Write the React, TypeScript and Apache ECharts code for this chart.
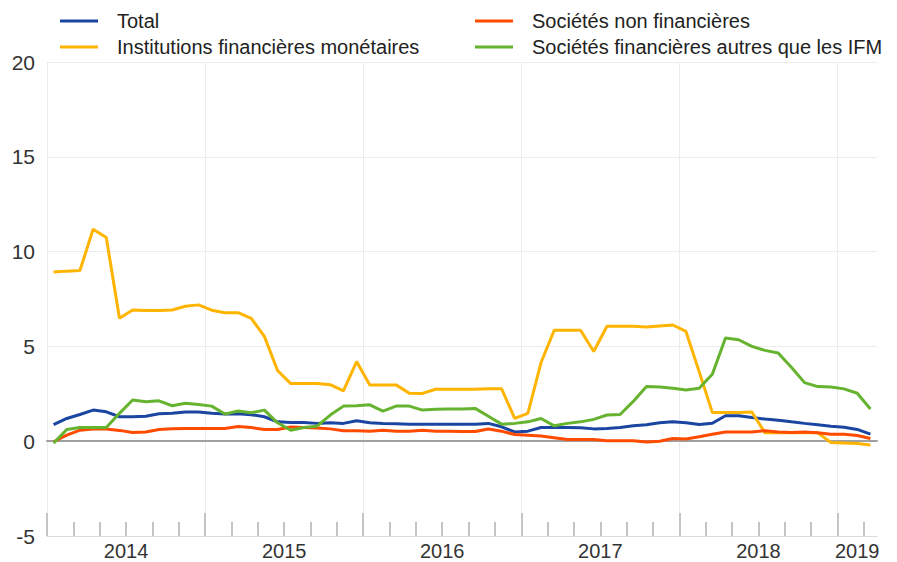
import React, { useEffect, useRef } from "react";
import * as echarts from "echarts";

const years = ["2014", "2015", "2016", "2017", "2018", "2019"];
const monthsInYear = [12, 12, 12, 12, 12, 3];
const months: string[] = [];
years.forEach((y, k) => {
  for (let m = 1; m <= monthsInYear[k]; m++) months.push(`${y}-${String(m).padStart(2, "0")}`);
});

// year label positions on the month scale (middle of each year span)
const yearLabelValues = [6, 18, 30, 42, 54, 61.5];
const yearTickValues = [0, 12, 24, 36, 48, 60];
const twoMonthTickValues = months.map((_, i) => i).filter((i) => i % 2 === 0);

const seriesNames = [
  "Total",
  "Institutions financières monétaires",
  "Sociétés non financières",
  "Sociétés financières autres que les IFM",
];

const total = [
  0.88, 1.2, 1.41, 1.64, 1.55, 1.29, 1.29, 1.32, 1.45, 1.48,
  1.54, 1.54, 1.48, 1.43, 1.45, 1.4, 1.29, 1.02, 0.99, 0.99,
  0.94, 0.97, 0.94, 1.08, 0.97, 0.94, 0.92, 0.9, 0.9, 0.9,
  0.9, 0.9, 0.9, 0.94, 0.76, 0.49, 0.53, 0.72, 0.72, 0.72,
  0.71, 0.65, 0.67, 0.72, 0.81, 0.87, 0.97, 1.02, 0.97, 0.88,
  0.95, 1.34, 1.34, 1.25, 1.17, 1.11, 1.02, 0.94, 0.87, 0.79,
  0.74, 0.62, 0.37,
];

const ifm = [
  8.92, 8.97, 9.0, 11.18, 10.74, 6.48, 6.92, 6.9, 6.9, 6.92,
  7.12, 7.19, 6.91, 6.78, 6.78, 6.48, 5.53, 3.73, 3.04, 3.04,
  3.04, 2.98, 2.65, 4.2, 2.97, 2.97, 2.97, 2.53, 2.52, 2.74,
  2.74, 2.74, 2.74, 2.77, 2.77, 1.2, 1.47, 4.15, 5.85, 5.85,
  5.85, 4.73, 6.06, 6.06, 6.06, 6.02, 6.08, 6.13, 5.79, 3.67,
  1.52, 1.52, 1.52, 1.54, 0.44, 0.44, 0.44, 0.44, 0.44, -0.07,
  -0.1, -0.12, -0.2,
];

const snf = [
  -0.03, 0.32, 0.58, 0.64, 0.64, 0.57, 0.46, 0.49, 0.62, 0.66,
  0.67, 0.67, 0.67, 0.67, 0.78, 0.72, 0.62, 0.62, 0.75, 0.72,
  0.7, 0.65, 0.55, 0.55, 0.53, 0.58, 0.53, 0.53, 0.58, 0.53,
  0.53, 0.51, 0.51, 0.64, 0.53, 0.35, 0.32, 0.27, 0.18, 0.09,
  0.09, 0.09, 0.02, 0.02, 0.02, -0.04, 0.0, 0.14, 0.12, 0.23,
  0.37, 0.49, 0.49, 0.49, 0.55, 0.49, 0.46, 0.48, 0.44, 0.37,
  0.37, 0.3, 0.14,
];

const sfa = [
  -0.1, 0.62, 0.72, 0.72, 0.72, 1.47, 2.17, 2.08, 2.13, 1.87,
  2.0, 1.94, 1.85, 1.43, 1.59, 1.5, 1.64, 0.97, 0.58, 0.72,
  0.79, 1.38, 1.85, 1.87, 1.92, 1.59, 1.85, 1.85, 1.64, 1.68,
  1.7, 1.7, 1.73, 1.32, 0.9, 0.94, 1.02, 1.2, 0.81, 0.94,
  1.02, 1.15, 1.38, 1.41, 2.1, 2.88, 2.86, 2.79, 2.7, 2.79,
  3.53, 5.44, 5.35, 5.0, 4.79, 4.65, 3.9, 3.09, 2.88, 2.86,
  2.76, 2.53, 1.7,
];

const colors = ["#1a45a0", "#ffb400", "#ff4b00", "#65b32e"];
const FONT = 'Arial, "Liberation Sans", sans-serif';

export default function App() {
  const ref = useRef<HTMLDivElement>(null);

  useEffect(() => {
    if (!ref.current) return;
    const chart = echarts.init(ref.current, undefined, { renderer: "svg" });
    const legendCommon = {
      orient: "vertical" as const,
      top: 11,
      padding: 0,
      itemGap: 6,
      itemWidth: 38,
      itemHeight: 3,
      icon: "rect",
      selectedMode: false,
      textStyle: { fontSize: 20, color: "#222", fontFamily: FONT, padding: [0, 0, 0, 14], lineHeight: 20 },
    };
    const valueAxisBase = {
      type: "value" as const,
      min: 0,
      max: months.length,
      position: "bottom" as const,
      gridIndex: 0,
    };
    const seriesData = [total, ifm, snf, sfa];
    chart.setOption({
      animation: false,
      textStyle: { fontFamily: FONT },
      grid: { left: 47, right: 20, top: 62, bottom: 26, outerBoundsMode: "none" },
      legend: [
        { ...legendCommon, left: 60, data: [seriesNames[0], seriesNames[1]] },
        { ...legendCommon, left: 475, data: [seriesNames[2], seriesNames[3]] },
      ],
      xAxis: [
        {
          type: "category",
          data: months,
          boundaryGap: true,
          position: "bottom",
          axisLine: { show: true, onZero: true, lineStyle: { color: "#a0a0a0", width: 2 } },
          axisTick: { show: false },
          axisLabel: { show: false },
          splitLine: { show: false },
        },
        {
          ...valueAxisBase,
          axisLine: { show: true, onZero: false, lineStyle: { color: "#dcdcdc", width: 1 } },
          axisTick: {
            show: true,
            inside: true,
            length: 14,
            customValues: twoMonthTickValues,
            lineStyle: { color: "#c4c4c4", width: 2 },
          },
          axisLabel: { show: false },
          splitLine: { show: false },
        },
        {
          ...valueAxisBase,
          axisLine: { show: false, onZero: false },
          axisTick: {
            show: true,
            inside: true,
            length: 23,
            customValues: yearTickValues,
            lineStyle: { color: "#c4c4c4", width: 2 },
          },
          axisLabel: { show: false },
          splitLine: { show: true, lineStyle: { color: "#ececec", width: 1 } },
        },
        {
          ...valueAxisBase,
          axisLine: { show: false, onZero: false },
          axisTick: { show: false },
          axisLabel: {
            show: true,
            customValues: yearLabelValues,
            formatter: (v: number) => years[Math.floor(v / 12)],
            margin: 5,
            fontSize: 20,
            color: "#333",
            fontFamily: FONT,
          },
          splitLine: { show: false },
        },
      ],
      yAxis: {
        type: "value",
        min: -5,
        max: 20,
        interval: 5,
        axisLine: { show: false },
        axisTick: { show: false },
        axisLabel: { fontSize: 21, color: "#333", margin: 12, fontFamily: FONT },
        splitLine: { show: true, lineStyle: { color: "#ececec", width: 1 } },
      },
      series: seriesNames.map((name, k) => ({
        name,
        type: "line",
        xAxisIndex: 0,
        yAxisIndex: 0,
        data: seriesData[k],
        symbol: "none",
        showSymbol: false,
        lineStyle: { width: 3, color: colors[k] },
        itemStyle: { color: colors[k] },
      })),
    });
    return () => chart.dispose();
  }, []);

  return (
    <div
      ref={ref}
      style={{ position: "fixed", left: 0, top: 0, width: 897, height: 562, background: "#fff" }}
    />
  );
}
